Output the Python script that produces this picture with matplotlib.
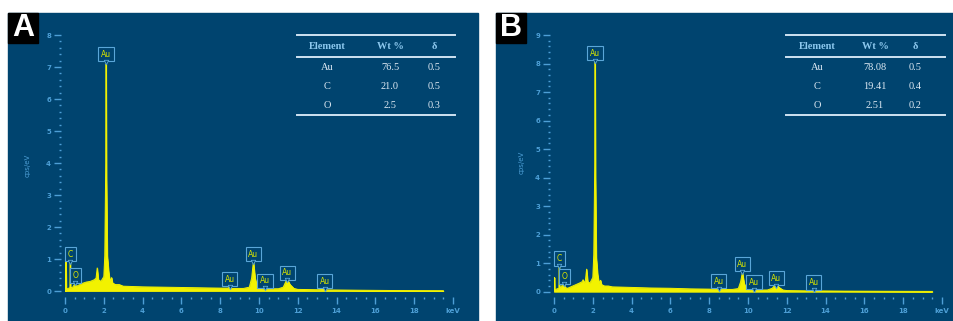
"""EDS spectra of two gold samples with composition tables."""

import matplotlib

matplotlib.use("Agg")
import matplotlib.pyplot as plt
from matplotlib.lines import Line2D
from matplotlib.patches import Rectangle
from matplotlib.ticker import FixedLocator, MultipleLocator
import matplotlib.transforms as mtransforms

W, H = 954, 321
BG = "#00446f"
TICK = "#4d9fd6"
BOX_EDGE = "#5aa6d8"
SPEC = "#f2f200"
LABEL_TXT = "#d8e400"

# spectrum A (keV, cps/eV)
energy_a = [0.00, 0.03, 0.05, 0.07, 0.15, 0.25, 0.27, 0.29, 0.40, 0.50, 0.53, 0.56,
            0.70, 0.90, 1.10, 1.30, 1.50, 1.60, 1.66, 1.72, 1.85, 2.00, 2.05, 2.10,
            2.12, 2.14, 2.18, 2.25, 2.32, 2.40, 2.45, 2.60, 2.80, 3.00, 3.50, 4.00,
            5.00, 6.00, 7.00, 8.00, 8.40, 8.49, 8.58, 9.20, 9.50, 9.62, 9.71, 9.80,
            9.92, 10.20, 10.30, 10.40, 11.00, 11.25, 11.40, 11.47, 11.60, 11.80,
            12.00, 13.00, 13.38, 13.50, 15.00, 17.00, 19.50]
counts_a = [0.0, 0.0, 1.0, 0.05, 0.08, 0.1, 0.95, 0.1, 0.12, 0.22, 0.25, 0.14,
            0.18, 0.24, 0.28, 0.3, 0.35, 0.4, 0.72, 0.35, 0.3, 0.45, 1.1, 4.0,
            7.1, 3.5, 1.1, 0.6, 0.3, 0.42, 0.25, 0.2, 0.2, 0.15, 0.14, 0.13,
            0.12, 0.11, 0.1, 0.09, 0.09, 0.13, 0.08, 0.08, 0.12, 0.4, 0.92, 0.4,
            0.1, 0.07, 0.08, 0.07, 0.07, 0.12, 0.32, 0.35, 0.2, 0.08,
            0.05, 0.04, 0.05, 0.035, 0.025, 0.015, 0.01]

# spectrum B (keV, cps/eV)
energy_b = [0.00, 0.02, 0.04, 0.15, 0.25, 0.27, 0.29, 0.40, 0.50, 0.53, 0.56, 0.70,
            0.90, 1.10, 1.30, 1.45, 1.50, 1.55, 1.62, 1.68, 1.74, 1.85, 2.00, 2.05,
            2.10, 2.12, 2.14, 2.18, 2.25, 2.32, 2.40, 2.45, 2.60, 2.80, 3.00, 3.50,
            4.00, 5.00, 6.00, 7.00, 8.00, 8.40, 8.49, 8.58, 9.20, 9.50, 9.62, 9.71,
            9.80, 9.92, 10.20, 10.30, 10.40, 11.00, 11.25, 11.40, 11.47, 11.60,
            11.80, 12.00, 13.00, 13.38, 13.50, 15.00, 17.00, 19.50]
counts_b = [0.0, 0.5, 0.05, 0.1, 0.12, 0.97, 0.12, 0.2, 0.3, 0.32, 0.15, 0.12,
            0.18, 0.24, 0.3, 0.35, 0.42, 0.3, 0.4, 0.79, 0.35, 0.3, 0.5, 1.3,
            4.5, 8.1, 4.0, 1.2, 0.6, 0.3, 0.4, 0.25, 0.2, 0.2, 0.17, 0.16,
            0.15, 0.13, 0.12, 0.1, 0.09, 0.08, 0.1, 0.08, 0.08, 0.11, 0.35, 0.68,
            0.3, 0.09, 0.06, 0.07, 0.06, 0.06, 0.12, 0.24, 0.25, 0.15,
            0.06, 0.04, 0.03, 0.04, 0.03, 0.02, 0.015, 0.01]

# peak labels: (element, keV, box centre in cps/eV)
labels_a = [("C", 0.27, 1.15), ("O", 0.53, 0.48), ("Au", 2.12, 7.4),
            ("Au", 8.49, 0.37), ("Au", 9.71, 1.15), ("Au", 10.30, 0.32),
            ("Au", 11.46, 0.57), ("Au", 13.38, 0.31)]
labels_b = [("C", 0.27, 1.17), ("O", 0.53, 0.53), ("Au", 2.12, 8.36),
            ("Au", 8.49, 0.37), ("Au", 9.71, 0.96), ("Au", 10.30, 0.33),
            ("Au", 11.46, 0.48), ("Au", 13.38, 0.32)]

table_header = ["Element", "Wt %", "δ"]
elements = ["Au", "C", "O"]
wt_a = ["76.5", "21.0", "2.5"]
err_a = ["0.5", "0.5", "0.3"]
wt_b = ["78.08", "19.41", "2.51"]
err_b = ["0.5", "0.4", "0.2"]


def fx(x):
    return x / W


def fy(y):
    return 1 - y / H


def draw_panel(fig, letter, left, right, x0, x20, y0, ytop, ymax, energy, counts,
               labels, wt, err, tab_l, tab_r, cols, ylab_x, ylab_y):
    fig.add_artist(Rectangle((fx(left), 0), fx(right - left), fy(13),
                             transform=fig.transFigure, color=BG, zorder=0))
    fig.add_artist(Rectangle((fx(left), fy(43)), fx(30), 30 / H,
                             transform=fig.transFigure, color="black", zorder=1))
    fig.text(fx(left + 15), fy(28.5), letter, color="white", fontsize=22,
             fontweight="bold", family="Liberation Sans", ha="center", va="center")

    ax = fig.add_axes([fx(x0), fy(y0), fx(x20 - x0), (y0 - ytop) / H])
    ax.set_facecolor("none")
    ax.fill_between(energy, counts, 0, color=SPEC, lw=0.6, zorder=2)
    ax.plot(energy, counts, color=SPEC, lw=0.7, zorder=2)
    ax.set_xlim(0, 20)
    ax.set_ylim(0, ymax)
    for s in ax.spines.values():
        s.set_visible(False)
    ax.spines["left"].set_position(("outward", 3))
    ax.spines["bottom"].set_position(("outward", 4))

    ax.xaxis.set_major_locator(FixedLocator(range(0, 21, 2)))
    ax.xaxis.set_minor_locator(MultipleLocator(0.5))
    ax.set_xticklabels([str(v) for v in range(0, 20, 2)] + ["keV"])
    ax.yaxis.set_major_locator(MultipleLocator(1))
    ax.yaxis.set_minor_locator(MultipleLocator(0.2))
    ax.tick_params(axis="x", which="major", length=5, width=1, color=TICK,
                   labelcolor=TICK, labelsize=5, pad=3)
    ax.tick_params(axis="x", which="minor", length=1.5, width=1, color=TICK)
    ax.tick_params(axis="y", which="major", length=5, width=1, color=TICK,
                   labelcolor=TICK, labelsize=5, pad=2)
    ax.tick_params(axis="y", which="minor", length=1.5, width=1, color=TICK)
    for lab in ax.get_xticklabels() + ax.get_yticklabels():
        lab.set_fontweight("bold")

    below = mtransforms.offset_copy(ax.transData, fig=fig, y=-7.5, units="dots")
    for name, e, yc in labels:
        ax.text(e, yc, name, color=LABEL_TXT, fontsize=5.5, ha="center", va="center",
                zorder=4, bbox=dict(boxstyle="square,pad=0.35", fc=BG, ec=BOX_EDGE, lw=0.8))
        ax.scatter([e], [yc], marker="v", s=10, fc=BG, ec=BOX_EDGE, lw=0.6,
                   transform=below, zorder=5)

    fig.text(fx(ylab_x), fy(ylab_y), "cps/eV", color=TICK, fontsize=5,
             rotation=90, ha="center", va="center")

    # composition table
    for yl in (35, 57, 115):
        fig.add_artist(Line2D([fx(tab_l), fx(tab_r)], [fy(yl), fy(yl)], color="#cfe3f2",
                              lw=1.4, transform=fig.transFigure))
    for cx, head in zip(cols, table_header):
        fig.text(fx(cx), fy(46.5), head, color="#8cc8ee", fontsize=7.5,
                 family="Liberation Serif", fontweight="bold", ha="center", va="center")
    for i, row in enumerate(zip(elements, wt, err)):
        for cx, val in zip(cols, row):
            fig.text(fx(cx), fy(67.5 + 19 * i), val, color="#dde9f3", fontsize=7.5,
                     family="Liberation Serif", ha="center", va="center")


fig = plt.figure(figsize=(W / 100, H / 100), dpi=100, facecolor="white")

draw_panel(fig, "A", 8, 478, 65, 453, 291, 35, 8, energy_a, counts_a, labels_a,
           wt_a, err_a, 297, 455, (327, 390, 434), 28, 165)
draw_panel(fig, "B", 496, 954, 554, 942, 291.7, 35, 9, energy_b, counts_b, labels_b,
           wt_b, err_b, 786, 945, (817, 875, 915), 522, 162)

fig.savefig("out.png", dpi=100, facecolor="white")
